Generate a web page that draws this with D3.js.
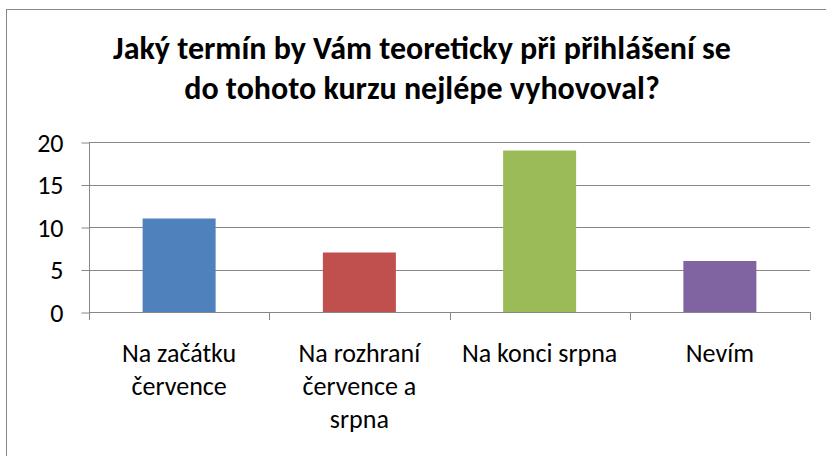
<!DOCTYPE html>
<html>
<head>
<meta charset="utf-8">
<script src="https://cdn.jsdelivr.net/npm/d3@7"></script>
<style>
  body { margin: 0; background: #fff; }
  svg { display: block; }
  text { font-family: Carlito, Calibri, Lato, sans-serif; fill: #000; }
</style>
</head>
<body>
<script>
// data
var titleLines = ["Jaký termín by Vám teoreticky při přihlášení se", "do tohoto kurzu nejlépe vyhovoval?"];
var categories = [
  ["Na začátku", "července"],
  ["Na rozhraní", "července a", "srpna"],
  ["Na konci srpna"],
  ["Nevím"]
];
var values = [11, 7, 19, 6];
var colors = ["#4F81BD", "#C0504D", "#9BBB59", "#8064A2"];
var yTicks = [0, 5, 10, 15, 20];

var width = 826, height = 456;
var margin = { top: 142, right: 16, bottom: 144, left: 89 };

var svg = d3.select("body").append("svg")
  .attr("width", width)
  .attr("height", height);

// chart border (right and bottom edges fall outside the picture)
svg.append("rect")
  .attr("x", 6.5).attr("y", 9.5)
  .attr("width", width).attr("height", height)
  .attr("fill", "none")
  .attr("stroke", "#868686");

svg.selectAll(".title")
  .data(titleLines)
  .enter().append("text")
  .attr("class", "title")
  .attr("x", 422)
  .attr("y", function (d, i) { return 59 + i * 40; })
  .attr("text-anchor", "middle")
  .attr("font-size", 32)
  .attr("font-weight", "bold")
  .text(function (d) { return d; });

var x = d3.scaleBand()
  .domain(d3.range(categories.length))
  .range([margin.left, width - margin.right])
  .paddingInner(0.595)
  .paddingOuter(0.2975);

var y = d3.scaleLinear()
  .domain([0, 20])
  .range([height - margin.bottom, margin.top]);

// gridlines
svg.append("g")
  .selectAll("line")
  .data(yTicks.filter(function (d) { return d > 0; }))
  .enter().append("line")
  .attr("x1", margin.left)
  .attr("x2", width - margin.right)
  .attr("y1", function (d) { return Math.round(y(d)) + 0.5; })
  .attr("y2", function (d) { return Math.round(y(d)) + 0.5; })
  .attr("stroke", "#868686");

// bars
svg.append("g")
  .selectAll("rect")
  .data(values)
  .enter().append("rect")
  .attr("x", function (d, i) { return x(i); })
  .attr("y", function (d) { return y(d); })
  .attr("width", x.bandwidth())
  .attr("height", function (d) { return y(0) - y(d); })
  .attr("fill", function (d, i) { return colors[i]; });

// y axis
var yAxis = svg.append("g")
  .attr("transform", "translate(" + (margin.left + 0.5) + ",0)")
  .call(d3.axisLeft(y).tickValues(yTicks).tickSize(8).tickPadding(18));
yAxis.selectAll("line, path").attr("stroke", "#868686");
yAxis.select(".domain").attr("d", "M0," + (y(20) + 0.5) + "V" + (y(0) + 0.5));
yAxis.selectAll("text")
  .attr("font-size", 26)
  .attr("font-family", "Carlito, Calibri, Lato, sans-serif")
  .attr("fill", "#000")
  .attr("dy", "0.35em");
yAxis.selectAll(".tick line").attr("transform", "translate(0,0.5)");

// x axis line with category boundary ticks
var x0 = y(0);
var bounds = d3.range(categories.length + 1).map(function (i) {
  return margin.left + i * x.step();
});
var xAxis = svg.append("g");
xAxis.append("line")
  .attr("x1", margin.left).attr("x2", width - margin.right)
  .attr("y1", Math.round(x0) + 0.5).attr("y2", Math.round(x0) + 0.5)
  .attr("stroke", "#868686");
xAxis.selectAll(".bt")
  .data(bounds)
  .enter().append("line")
  .attr("x1", function (d) { return Math.round(d) + 0.5; })
  .attr("x2", function (d) { return Math.round(d) + 0.5; })
  .attr("y1", Math.round(x0)).attr("y2", Math.round(x0) + 8)
  .attr("stroke", "#868686");

// category labels
var labels = svg.append("g")
  .selectAll("text")
  .data(categories)
  .enter().append("text")
  .attr("x", function (d, i) { return x(i) + x.bandwidth() / 2; })
  .attr("y", 362)
  .attr("text-anchor", "middle")
  .attr("font-size", 26);
labels.selectAll("tspan")
  .data(function (d) { return d; })
  .enter().append("tspan")
  .attr("x", function () { return d3.select(this.parentNode).attr("x"); })
  .attr("dy", function (d, i) { return i === 0 ? 0 : 33; })
  .text(function (d) { return d; });
</script>
</body>
</html>
